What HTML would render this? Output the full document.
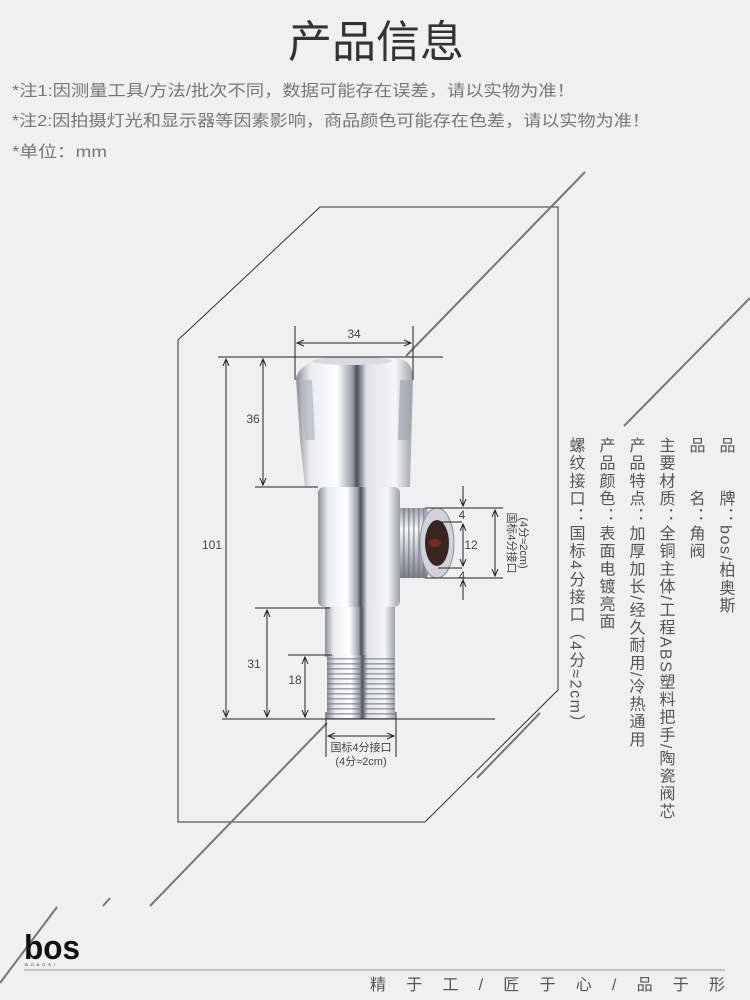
<!DOCTYPE html>
<html><head><meta charset="utf-8"><style>
html,body{margin:0;padding:0;background:#f0f0f0;}
svg{display:block}
text{font-family:"Liberation Sans","Noto Sans CJK SC",sans-serif;}
</style></head><body>
<svg width="750" height="1000" viewBox="0 0 750 1000" xmlns="http://www.w3.org/2000/svg">
<defs>
<linearGradient id="chrome" x1="0" x2="1" y1="0" y2="0">
<stop offset="0" stop-color="#8a8f96"/><stop offset="0.12" stop-color="#e8ecf0"/><stop offset="0.35" stop-color="#ffffff"/><stop offset="0.48" stop-color="#9aa0a8"/><stop offset="0.52" stop-color="#4a4f58"/><stop offset="0.6" stop-color="#dfe3e8"/><stop offset="0.85" stop-color="#f4f6f8"/><stop offset="1" stop-color="#9ca2aa"/>
</linearGradient>
<linearGradient id="chromeV" x1="0" x2="0" y1="0" y2="1">
<stop offset="0" stop-color="#9aa0a8"/><stop offset="0.3" stop-color="#f6f8fa"/><stop offset="0.55" stop-color="#c8ccd2"/><stop offset="1" stop-color="#7a8088"/>
</linearGradient>
<pattern id="thread" width="8" height="5" patternUnits="userSpaceOnUse">
<rect y="3" width="8" height="1.6" fill="#6a707a" opacity="0.6"/>
</pattern>
<pattern id="threadV" width="5" height="8" patternUnits="userSpaceOnUse">
<rect x="3" width="1.6" height="8" fill="#6a707a" opacity="0.6"/>
</pattern>
<marker id="ar" markerWidth="8" markerHeight="8" refX="7" refY="4" orient="auto-start-reverse" markerUnits="userSpaceOnUse">
<path d="M0,1 L7,4 L0,7" fill="none" stroke="#222" stroke-width="1"/>
</marker>
</defs>

<!-- title & notes -->
<text x="376" y="57" font-size="44" fill="#333" text-anchor="middle" textLength="176" lengthAdjust="spacingAndGlyphs">产品信息</text>
<text x="12" y="96" font-size="16" fill="#777" textLength="563" lengthAdjust="spacingAndGlyphs">*注1:因测量工具/方法/批次不同，数据可能存在误差，请以实物为准！</text>
<text x="12" y="126" font-size="16" fill="#777" textLength="638" lengthAdjust="spacingAndGlyphs">*注2:因拍摄灯光和显示器等因素影响，商品颜色可能存在色差，请以实物为准！</text>
<text x="12" y="157" font-size="16" fill="#777" textLength="95" lengthAdjust="spacingAndGlyphs">*单位：mm</text>

<!-- frame -->
<polygon points="178,340 320,207 558,207 558,690 425,822 178,822" fill="none" stroke="#333" stroke-width="1"/>
<!-- diagonals -->
<g stroke="#777" stroke-width="2">
<line x1="585" y1="172" x2="406" y2="356"/>
<line x1="750" y1="298" x2="624" y2="426"/>
<line x1="327" y1="723" x2="150" y2="906"/>
<line x1="540" y1="713" x2="477" y2="778"/>
<line x1="110" y1="898" x2="103" y2="906"/>
<line x1="57" y1="907" x2="0" y2="983"/>
</g>

<!-- valve -->
<rect x="370" y="515" width="30" height="52" fill="url(#chromeV)"/>
<rect x="390" y="508" width="38" height="70" rx="4" fill="url(#chromeV)"/>
<rect x="390" y="508" width="38" height="70" fill="url(#threadV)"/>
<ellipse cx="437" cy="543" rx="17" ry="35" fill="#d0d4da" stroke="#8a9098"/>
<ellipse cx="437" cy="543" rx="12" ry="23" fill="#3a2420"/>
<ellipse cx="435" cy="543" rx="6" ry="4" fill="#8a3020" opacity="0.7"/>
<rect x="318" y="487" width="82" height="120" rx="6" fill="url(#chrome)"/>
<rect x="325" y="607" width="70" height="50" fill="url(#chrome)"/>
<rect x="327" y="655" width="68" height="64" fill="url(#chrome)"/>
<rect x="327" y="655" width="68" height="64" fill="url(#thread)"/>
<path d="M296,378 Q300,362 330,359 L400,359 Q413,362 413,378 L410,487 L305,487 L300,440 Z" fill="url(#chrome)"/>
<path d="M300,380 L312,380 L315,440 L305,440 Z" fill="#b0b6be" opacity="0.7"/>
<path d="M400,380 L412,380 L410,440 L398,440 Z" fill="#a0a6ae" opacity="0.7"/>
<ellipse cx="352" cy="361" rx="40" ry="4" fill="#d8dce0"/>

<!-- dimension lines -->
<g stroke="#222" stroke-width="1" fill="none">
<line x1="218" y1="357" x2="443" y2="357"/>
<line x1="295" y1="326" x2="295" y2="380"/>
<line x1="413" y1="326" x2="413" y2="380"/>
<line x1="297" y1="343" x2="411" y2="343" marker-start="url(#ar)" marker-end="url(#ar)"/>
<line x1="226" y1="359" x2="226" y2="717" marker-start="url(#ar)" marker-end="url(#ar)"/>
<line x1="263" y1="359" x2="263" y2="485" marker-start="url(#ar)" marker-end="url(#ar)"/>
<line x1="255" y1="487" x2="318" y2="487"/>
<line x1="255" y1="608" x2="330" y2="608"/>
<line x1="267" y1="610" x2="267" y2="717" marker-start="url(#ar)" marker-end="url(#ar)"/>
<line x1="288" y1="655" x2="332" y2="655"/>
<line x1="305" y1="657" x2="305" y2="717" marker-start="url(#ar)" marker-end="url(#ar)"/>
<line x1="222" y1="719" x2="495" y2="719"/>
<line x1="326" y1="712" x2="326" y2="757"/>
<line x1="396" y1="712" x2="396" y2="757"/>
<line x1="328" y1="736" x2="394" y2="736" marker-start="url(#ar)" marker-end="url(#ar)"/>
<line x1="425" y1="508" x2="503" y2="508"/>
<line x1="425" y1="578" x2="503" y2="578"/>
<line x1="438" y1="522" x2="462" y2="522"/>
<line x1="438" y1="568" x2="462" y2="568"/>
<line x1="463" y1="486" x2="463" y2="506" marker-end="url(#ar)"/>
<line x1="463" y1="600" x2="463" y2="580" marker-end="url(#ar)"/>
<line x1="463" y1="524" x2="463" y2="566" marker-start="url(#ar)" marker-end="url(#ar)"/>
<line x1="495" y1="510" x2="495" y2="576" marker-start="url(#ar)" marker-end="url(#ar)"/>
</g>
<g font-size="12" fill="#444">
<text x="354" y="338" text-anchor="middle">34</text>
<text x="212" y="549" text-anchor="middle">101</text>
<text x="253" y="423" text-anchor="middle">36</text>
<text x="254" y="668" text-anchor="middle">31</text>
<text x="295" y="684" text-anchor="middle">18</text>
<text x="462" y="519" text-anchor="middle">4</text>
<text x="471" y="549" text-anchor="middle">12</text>
<text x="462" y="580" text-anchor="middle">4</text>
<text x="361" y="751" text-anchor="middle" font-size="11">国标4分接口</text>
<text x="361" y="765" text-anchor="middle" font-size="11">(4分≈2cm)</text>
<text transform="translate(508,543) rotate(90)" text-anchor="middle" font-size="11">国标4分接口</text>
<text transform="translate(520,543) rotate(90)" text-anchor="middle" font-size="11">(4分≈2cm)</text>
</g>

<!-- specs vertical -->
<g font-size="16" fill="#555">
<text x="725" y="437" style="writing-mode:vertical-rl;letter-spacing:1.6px">品　　牌：bos/柏奥斯</text>
<text x="695" y="437" style="writing-mode:vertical-rl;letter-spacing:1.6px">品　　名：角阀</text>
<text x="665" y="437" style="writing-mode:vertical-rl;letter-spacing:1.6px">主要材质：全铜主体/工程ABS塑料把手/陶瓷阀芯</text>
<text x="635" y="437" style="writing-mode:vertical-rl;letter-spacing:1.6px">产品特点：加厚加长/经久耐用/冷热通用</text>
<text x="605" y="437" style="writing-mode:vertical-rl;letter-spacing:1.6px">产品颜色：表面电镀亮面</text>
<text x="575" y="437" style="writing-mode:vertical-rl;letter-spacing:1.6px">螺纹接口：国标4分接口（4分≈2cm）</text>
</g>

<!-- footer -->
<text x="24" y="959" font-size="34" fill="#111" font-weight="bold" textLength="56" lengthAdjust="spacingAndGlyphs">bos</text>
<text x="25" y="966" font-size="4" fill="#111" textLength="30" lengthAdjust="spacing">BOAOSI</text>
<line x1="24" y1="970" x2="725" y2="970" stroke="#999" stroke-width="1"/>
<text x="370" y="990" font-size="16" fill="#555" textLength="355" lengthAdjust="spacing">精 于 工 / 匠 于 心 / 品 于 形</text>
</svg>
</body></html>
